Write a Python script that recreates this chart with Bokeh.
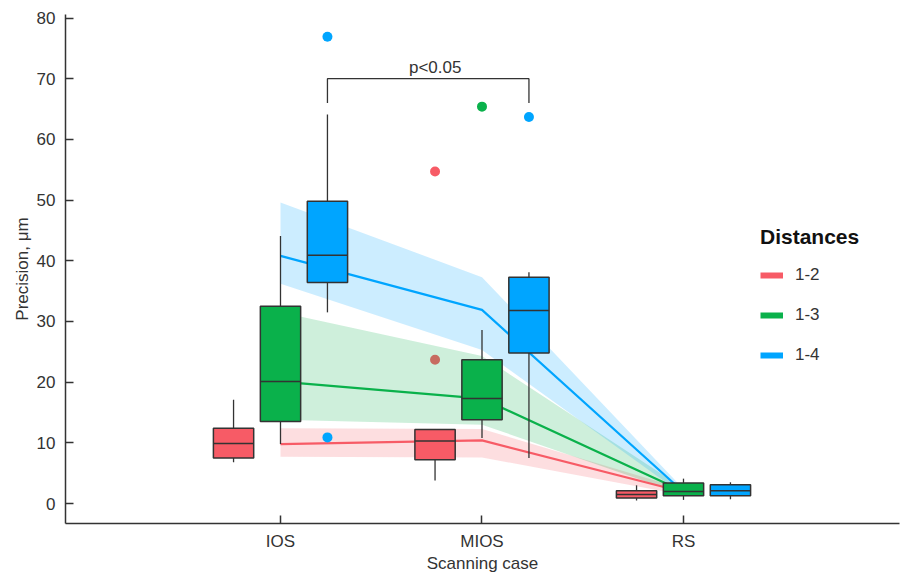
from bokeh.plotting import figure
from bokeh.models import FixedTicker, Legend, LegendItem, Range1d
from bokeh.core.properties import value
from bokeh.embed import file_html
from bokeh.resources import INLINE

# ---------------- data ----------------
categories = ["IOS", "MIOS", "RS"]
series_names = ["1-2", "1-3", "1-4"]
y_ticks = [0, 10, 20, 30, 40, 50, 60, 70, 80]
x_title = "Scanning case"
y_title = "Precision, μm"

# box statistics (one value per category)
whisk_lo_12 = [6.8, 3.8, 0.5]
q1_12 = [7.5, 7.2, 0.9]
median_12 = [9.9, 10.3, 1.5]
q3_12 = [12.4, 12.2, 2.1]
whisk_hi_12 = [17.1, 12.2, 3.0]

whisk_lo_13 = [9.8, 10.8, 0.6]
q1_13 = [13.5, 13.8, 1.3]
median_13 = [20.1, 17.3, 2.0]
q3_13 = [32.5, 23.7, 3.4]
whisk_hi_13 = [44.1, 28.6, 4.1]

whisk_lo_14 = [31.5, 7.5, 0.7]
q1_14 = [36.4, 24.8, 1.3]
median_14 = [40.9, 31.8, 2.1]
q3_14 = [49.8, 37.3, 3.1]
whisk_hi_14 = [64.1, 38.1, 3.5]

# outliers
outlier_cat_12 = ["MIOS", "MIOS"]
outlier_val_12 = [54.7, 23.7]
outlier_cat_13 = ["MIOS"]
outlier_val_13 = [65.4]
outlier_cat_14 = ["IOS", "IOS", "MIOS"]
outlier_val_14 = [76.9, 10.9, 63.7]

# trend lines with confidence bands
trend_12 = [9.8, 10.4, 1.9]
band_lo_12 = [7.7, 7.6, 1.4]
band_hi_12 = [12.4, 12.3, 2.4]

trend_13 = [20.1, 17.3, 2.0]
band_lo_13 = [13.8, 13.0, 1.5]
band_hi_13 = [31.5, 24.3, 2.5]

trend_14 = [40.8, 31.9, 1.9]
band_lo_14 = [36.2, 25.3, 1.4]
band_hi_14 = [49.6, 37.3, 2.4]

# significance bracket
bracket_label = "p<0.05"
bracket_from = "IOS"
bracket_to = "MIOS"
bracket_series = "1-4"
bracket_top = 70.0
bracket_leg = 66.0

# ---------------- styling ----------------
FONT = "Liberation Sans"
TXT = "#333333"
colors = {"1-2": "#f75b66", "1-3": "#0ab14b", "1-4": "#00a5ff"}
offsets = {"1-2": -0.233, "1-3": 0.0, "1-4": 0.233}
BOX_W = 0.2
cat_pos = {c: i + 1 for i, c in enumerate(categories)}
xs = [cat_pos[c] for c in categories]

boxes = {
    "1-2": (whisk_lo_12, q1_12, median_12, q3_12, whisk_hi_12),
    "1-3": (whisk_lo_13, q1_13, median_13, q3_13, whisk_hi_13),
    "1-4": (whisk_lo_14, q1_14, median_14, q3_14, whisk_hi_14),
}
outliers = {
    "1-2": (outlier_cat_12, outlier_val_12),
    "1-3": (outlier_cat_13, outlier_val_13),
    "1-4": (outlier_cat_14, outlier_val_14),
}
trends = {
    "1-2": (trend_12, band_lo_12, band_hi_12),
    "1-3": (trend_13, band_lo_13, band_hi_13),
    "1-4": (trend_14, band_lo_14, band_hi_14),
}

p = figure(width=901, height=575, output_backend="svg", toolbar_location=None,
           x_range=Range1d(-0.067, 4.072), y_range=Range1d(-3.29, 80.58),
           min_border_left=65, min_border_right=2, min_border_top=14, min_border_bottom=52)
p.outline_line_color = None
p.xgrid.visible = False
p.ygrid.visible = False
p.background_fill_color = "white"
p.border_fill_color = "white"

def draw_outliers(s):
    cats, vals = outliers[s]
    p.scatter([cat_pos[c] + offsets[s] for c in cats], vals, size=10,
              fill_color=colors[s], line_color=None)

# series 1-2 outliers sit underneath the bands
draw_outliers("1-2")

# bands
for s in series_names:
    t, lo, hi = trends[s]
    p.varea(x=xs, y1=lo, y2=hi, fill_color=colors[s], fill_alpha=0.2)
# trend lines
for s in series_names:
    t, lo, hi = trends[s]
    p.line(xs, t, line_color=colors[s], line_width=2.2)

# boxes
for s in series_names:
    wlo, q1, med, q3, whi = boxes[s]
    x = [v + offsets[s] for v in xs]
    left = [v - BOX_W / 2 for v in x]
    right = [v + BOX_W / 2 for v in x]
    p.segment(x0=x, y0=q3, x1=x, y1=whi, line_color=TXT, line_width=1.3)
    p.segment(x0=x, y0=wlo, x1=x, y1=q1, line_color=TXT, line_width=1.3)
    p.quad(left=left, right=right, bottom=q1, top=q3, fill_color=colors[s],
           line_color=TXT, line_width=1.5)
    p.segment(x0=left, y0=med, x1=right, y1=med, line_color=TXT, line_width=1.5)

for s in ["1-3", "1-4"]:
    draw_outliers(s)

# bracket
bx0 = cat_pos[bracket_from] + offsets[bracket_series]
bx1 = cat_pos[bracket_to] + offsets[bracket_series]
p.line([bx0, bx0, bx1, bx1], [bracket_leg, bracket_top, bracket_top, bracket_leg],
       line_color=TXT, line_width=1.3)
p.text(x=[(bx0 + bx1) / 2], y=[bracket_top], text=[bracket_label],
       text_font=value(FONT), text_font_size="17px", text_color=TXT,
       text_align="center", text_baseline="bottom", x_offset=7, y_offset=-2)

# legend (thick swatches)
nan = float("nan")
items = []
for s in series_names:
    r = p.line([nan], [nan], line_color=colors[s], line_width=6)
    items.append(LegendItem(label=s, renderers=[r]))
legend = Legend(items=items, location=(695, 158), title="Distances",
                title_text_font=FONT, title_text_font_size="21px",
                title_text_font_style="bold", title_text_color="#111111",
                title_standoff=16,
                label_text_font=FONT, label_text_font_size="17px",
                label_text_color=TXT, label_standoff=12,
                glyph_width=23, glyph_height=20, label_height=20,
                spacing=20, padding=0, margin=0,
                border_line_color=None, background_fill_alpha=0)
p.add_layout(legend)

# axes
for ax in (p.xaxis[0], p.yaxis[0]):
    ax.axis_line_color = TXT
    ax.axis_line_width = 1.5
    ax.major_tick_line_color = TXT
    ax.major_tick_line_width = 1.5
    ax.major_tick_in = 8
    ax.major_tick_out = 0
    ax.minor_tick_line_color = None
    ax.major_label_text_font = FONT
    ax.major_label_text_font_size = "17px"
    ax.major_label_text_color = TXT
    ax.axis_label_text_font = FONT
    ax.axis_label_text_font_size = "17px"
    ax.axis_label_text_font_style = "normal"
    ax.axis_label_text_color = TXT

p.xaxis.ticker = FixedTicker(ticks=xs)
p.xaxis.major_label_overrides = {cat_pos[c]: c for c in categories}
p.xaxis.major_label_standoff = 8
p.xaxis.axis_label = x_title
p.xaxis.axis_label_standoff = 0

p.yaxis.ticker = FixedTicker(ticks=y_ticks)
p.yaxis.axis_label = y_title
p.yaxis.major_label_standoff = 10
p.yaxis.axis_label_standoff = 2

open("out.html", "w").write(file_html(p, INLINE))
